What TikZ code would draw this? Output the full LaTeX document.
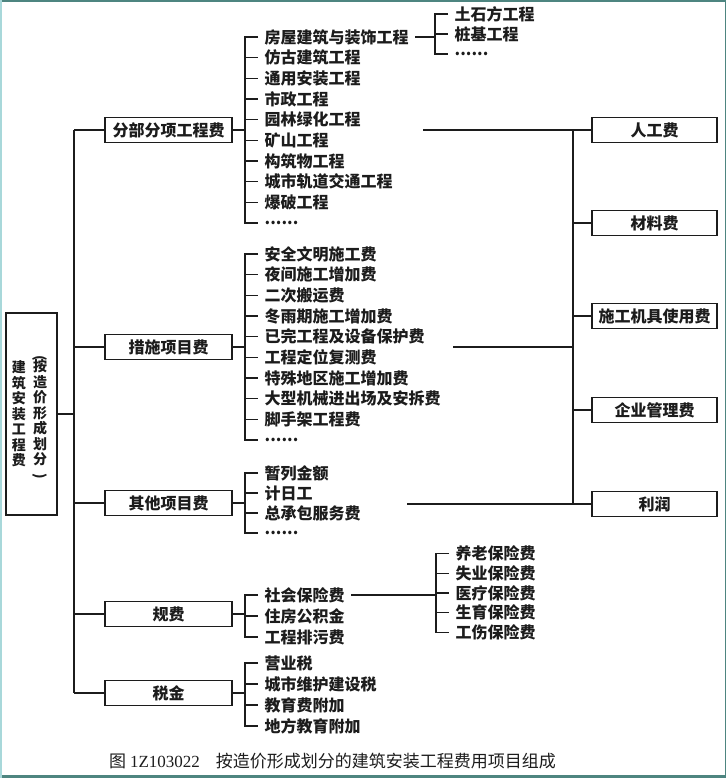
\documentclass[tikz,border=0pt]{standalone}
\usepackage{fontspec}
\setmainfont{Noto Sans CJK SC}
\newfontfamily\capnum{Liberation Serif}
\usetikzlibrary{positioning, calc}
\definecolor{zjframe}{HTML}{4E8580}
\definecolor{zjedge}{HTML}{A8D8DA}
\definecolor{zjink}{HTML}{1C1C1C}
\newcommand{\moreitems}{.\kern0pt.\kern0pt.\kern0pt.\kern0pt.\kern0pt.}
\tikzset{
  grpbox/.style={draw=zjink, line width=1.6pt, minimum width=127pt, minimum height=25pt, inner sep=0pt},
  costbox/.style={draw=zjink, line width=1.6pt, minimum width=125pt, minimum height=25pt, inner sep=0pt},
  item/.style={anchor=west, inner xsep=6.5pt, inner ysep=0pt},
  link/.style={draw=zjink, line width=1.1pt}
}
\begin{document}
\begin{tikzpicture}[x=1pt, y={(0pt,-1pt)}, font=\bfseries\fontsize{16}{16}\selectfont, text=zjink]
  \useasboundingbox (0,0) rectangle (726,778);
  % scan frame
  \fill[zjframe] (0,0) rectangle (726,2.5);
  \fill[zjframe] (0,775) rectangle (726,778);
  \fill[zjframe] (724.5,0) rectangle (726,778);
  \fill[zjedge] (0,0) rectangle (1.5,778);
  \def\bx{168.5}\def\tx{258}\def\cx{654.5}
  % total
  \node[draw=zjink, line width=1.6pt, minimum width=51pt, minimum height=202pt, inner sep=0pt] (total) at (31.5,414) {};
  \node[font=\bfseries\fontsize{14}{15.5}\selectfont, align=center, inner sep=0pt] (total-a) at ([xshift=-12.5pt]total.center) {建\\筑\\安\\装\\工\\程\\费};
  \node[font=\bfseries\fontsize{14}{15.5}\selectfont, align=center, inner sep=0pt] (total-b) at ([xshift=8.5pt,yshift=-3pt]total.center)
    {\rotatebox{-90}{(}\\[-2pt]按\\造\\价\\形\\成\\划\\分\\[-7pt]\rotatebox{-90}{)}};
  \coordinate (trunk) at (74,0);
  % cost groups
  \foreach \g/\name/\yy in {fb/分部分项工程费/130, cs/措施项目费/347, qt/其他项目费/503, gf/规费/614, sj/税金/693}
  {
    \node[grpbox] (\g) at (\bx,\yy) {\name};
    \coordinate (br-\g) at (245,\yy);
  }
  \foreach \j/\name in {1/房屋建筑与装饰工程, 2/仿古建筑工程, 3/通用安装工程, 4/市政工程, 5/园林绿化工程,
      6/矿山工程, 7/构筑物工程, 8/城市轨道交通工程, 9/爆破工程, 10/\moreitems}
  {
    \pgfmathsetmacro{\yy}{37+(\j-1)*20.67}
    \node[item] (fb-\j) at (\tx,\yy) {\name};
  }
  \foreach \j/\name in {1/安全文明施工费, 2/夜间施工增加费, 3/二次搬运费, 4/冬雨期施工增加费, 5/已完工程及设备保护费,
      6/工程定位复测费, 7/特殊地区施工增加费, 8/大型机械进出场及安拆费, 9/脚手架工程费, 10/\moreitems}
  {
    \pgfmathsetmacro{\yy}{254+(\j-1)*20.67}
    \node[item] (cs-\j) at (\tx,\yy) {\name};
  }
  \foreach \j/\name in {1/暂列金额, 2/计日工, 3/总承包服务费, 4/\moreitems}
  {
    \pgfmathsetmacro{\yy}{473+(\j-1)*20}
    \node[item] (qt-\j) at (\tx,\yy) {\name};
  }
  \foreach \j/\name in {1/社会保险费, 2/住房公积金, 3/工程排污费}
  {
    \pgfmathsetmacro{\yy}{595+(\j-1)*21}
    \node[item] (gf-\j) at (\tx,\yy) {\name};
  }
  \foreach \j/\name in {1/营业税, 2/城市维护建设税, 3/教育费附加, 4/地方教育附加}
  {
    \pgfmathsetmacro{\yy}{663+(\j-1)*21}
    \node[item] (sj-\j) at (\tx,\yy) {\name};
  }
  % second level lists
  \foreach \j/\name in {1/土石方工程, 2/桩基工程, 3/\moreitems}
  {
    \pgfmathsetmacro{\yy}{14+(\j-1)*20}
    \node[item] (tf-\j) at (448,\yy) {\name};
  }
  \foreach \j/\name in {1/养老保险费, 2/失业保险费, 3/医疗保险费, 4/生育保险费, 5/工伤保险费}
  {
    \pgfmathsetmacro{\yy}{553.5+(\j-1)*19.75}
    \node[item] (sb-\j) at (449,\yy) {\name};
  }
  \coordinate (br-tf) at (435,0);
  \coordinate (br-sb) at (436,0);
  % cost elements on the right
  \foreach \i/\name/\yy in {1/人工费/130, 2/材料费/223, 3/施工机具使用费/316, 4/企业管理费/410, 5/利润/504}
    \node[costbox] (rg-\i) at (\cx,\yy) {\name};
  \coordinate (bus) at (573,0);
  \coordinate (tap-fb) at (423,130);
  \coordinate (tap-cs) at (453,347);
  \coordinate (tap-qt) at (407,504);

  % trunk
  \draw[link] (total.east) -- (total.east -| trunk);
  \draw[link] (fb.west -| trunk) -- (sj.west -| trunk);
  \foreach \g in {fb, cs, qt, gf, sj}
    \draw[link] (\g.west -| trunk) -- (\g.west);
  % brackets
  \foreach \g/\n in {fb/10, cs/10, qt/4, gf/3, sj/4}
  {
    \draw[link] (\g.east) -- (br-\g);
    \draw[link] (\g-1.west) -- (\g-1.west -| br-\g) -- (\g-\n.west -| br-\g) -- (\g-\n.west);
    \foreach \j in {1,...,\n}
      \draw[link] (\g-\j.west -| br-\g) -- (\g-\j.west);
  }
  \draw[link] (fb-1.east) -- (fb-1.east -| br-tf);
  \draw[link] (tf-1.west) -- (tf-1.west -| br-tf) -- (tf-3.west -| br-tf) -- (tf-3.west);
  \draw[link] (tf-2.west -| br-tf) -- (tf-2.west);
  \draw[link] (gf-1.east) -- (gf-1.east -| br-sb);
  \draw[link] (sb-1.west) -- (sb-1.west -| br-sb) -- (sb-5.west -| br-sb) -- (sb-5.west);
  \foreach \j in {2,3,4}
    \draw[link] (sb-\j.west -| br-sb) -- (sb-\j.west);
  % bus to the right
  \draw[link] (rg-1.west -| bus) -- (rg-5.west -| bus);
  \draw[link] (tap-fb) -- (rg-1.west);
  \draw[link] (tap-cs) -- (tap-cs -| bus);
  \draw[link] (tap-qt) -- (rg-5.west);
  \foreach \i in {2,3,4}
    \draw[link] (rg-\i.west -| bus) -- (rg-\i.west);
  % caption
  \node[anchor=west, inner sep=0pt, font=\fontsize{17}{17}\selectfont] (caption) at (109,761)
    {图 {\capnum 1Z103022}\hspace{16pt}按造价形成划分的建筑安装工程费用项目组成};
\end{tikzpicture}
\end{document}
